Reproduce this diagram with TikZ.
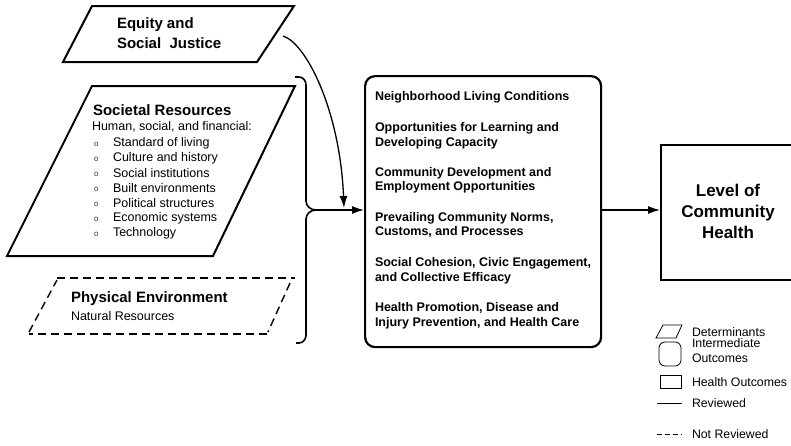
\documentclass[tikz,border=0pt]{standalone}
\usepackage{fontspec}
\setmainfont{Liberation Sans}
\usetikzlibrary{arrows.meta}
\begin{document}
\begin{tikzpicture}[x=1pt,y=-1pt,
  detshape/.style={line width=2pt,line join=miter},
  dashshape/.style={line width=1.4pt,dash pattern=on 8pt off 5pt},
  bracket/.style={line width=1.6pt},
  arr/.style={line width=1.3pt,-{Latex[length=12pt,width=8pt]}},
  txt/.style={anchor=west,inner sep=0pt,outer sep=0pt},
  midtxt/.style={txt,font=\fontsize{12.5}{14}\selectfont\bfseries},
  listtxt/.style={txt,font=\fontsize{12.5}{15}\selectfont},
  legtxt/.style={txt,font=\fontsize{12.3}{14}\selectfont},
  legshape/.style={line width=0.8pt}]
\useasboundingbox (0,0) rectangle (791,445);
% Equity and Social Justice
\draw[detshape] (92,6) -- (294,6) -- (257,62) -- (63,62) -- cycle;
\node[txt,font=\fontsize{15}{18}\selectfont\bfseries] (eq1) at (117,25) {Equity and};
\node[txt,font=\fontsize{15}{18}\selectfont\bfseries] (eq2) at (117,43) {Social\ \ Justice};
\coordinate (eqout) at (283,36);
% Societal Resources
\draw[detshape] (92,86) -- (295,86) -- (213,256) -- (7,256) -- cycle;
\node[txt,font=\fontsize{15}{18}\selectfont\bfseries] (sr) at (93,110) {Societal Resources};
\node[listtxt] (hum) at (92,127) {Human, social, and financial:};
\foreach \y/\t [count=\i] in {143/Standard of living,158/Culture and history,173/Social institutions,188/Built environments,203/Political structures,218/Economic systems,233/Technology}{
  \node[txt,font=\fontsize{8}{9}\selectfont,text=black!80] (b\i) at (94,\y+1) {o};
  \node[listtxt] (it\i) at (113,\y) {\t};
}
% Physical Environment
\draw[dashshape] (57,278) -- (295,278);
\draw[dashshape] (290,283) -- (268,332);
\draw[dashshape] (267,334) -- (29,334);
\draw[dashshape] (29,332) -- (57,280);
\node[txt,font=\fontsize{15}{18}\selectfont\bfseries] (pe) at (71,299) {Physical Environment};
\node[listtxt] (nr) at (71,316) {Natural Resources};
% bracket
\coordinate (bt) at (295,77);
\coordinate (bb) at (296,343);
\coordinate (tip) at (316,210);
\draw[bracket] (bt) -- (299,77) to[out=0,in=90] (306,85) -- (306,201) to[out=-90,in=180] (tip);
\draw[bracket] (bb) -- (299,343) to[out=0,in=-90] (306,335) -- (306,219) to[out=90,in=180] (tip);
% middle box
\node[draw,line width=2.2pt,rounded corners=10pt,minimum width=236pt,minimum height=271pt,anchor=north west,inner sep=0pt] (mid) at (364,75) {};
\foreach \y/\t [count=\i] in {97/Neighborhood Living Conditions,128/Opportunities for Learning and,143/Developing Capacity,173/Community Development and,187/Employment Opportunities,218/{Prevailing Community Norms,},232/{Customs, and Processes},263/{Social Cohesion, Civic Engagement,},278/and Collective Efficacy,308/Health Promotion{,} Disease and,323/{Injury Prevention, and Health Care}}{
  \node[midtxt] (m\i) at (375,\y) {\t};
}
\coordinate (eqin) at (344,208);
\draw[arr] (eqout) .. controls (306,43) and (340,110) .. (eqin);
\draw[arr] (tip) -- (mid.west |- tip);
% Level of Community Health
\node[draw,line width=2.2pt,minimum width=150pt,minimum height=135pt,anchor=north west,inner sep=0pt] (lvl) at (660,144) {};
\node[font=\fontsize{17}{21}\selectfont\bfseries,align=center,inner sep=0pt] (lvltxt) at (728,211) {Level of\\Community\\Health};
\draw[arr] (mid.east |- tip) -- (lvl.west |- tip);
% legend
\draw[legshape] (663,325) -- (682,325) -- (676,338) -- (656,338) -- cycle;
\node[legtxt] (l1) at (692,332) {Determinants};
\draw[legshape,rounded corners=6pt] (659,342) rectangle (681,366);
\node[legtxt] (l2) at (692,343) {Intermediate};
\node[legtxt] (l3) at (692,358) {Outcomes};
\draw[legshape] (660,375) rectangle (681,388);
\node[legtxt] (l4) at (692,382) {Health Outcomes};
\coordinate (ls1) at (657,403);
\coordinate (ls2) at (682,403);
\draw[legshape] (ls1) -- (ls2);
\node[legtxt] (l5) at (692,403) {Reviewed};
\coordinate (ld1) at (657,434);
\coordinate (ld2) at (682,434);
\draw[legshape,dash pattern=on 5pt off 3pt] (ld1) -- (ld2);
\node[legtxt] (l6) at (692,434) {Not Reviewed};
\end{tikzpicture}
\end{document}
